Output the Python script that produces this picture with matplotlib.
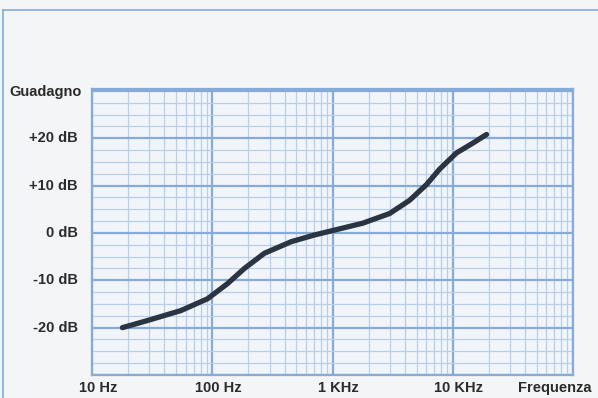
import numpy as np
import matplotlib
matplotlib.use("Agg")
import matplotlib.pyplot as plt
from matplotlib.lines import Line2D
from matplotlib.transforms import ScaledTranslation

# Data
freq_hz = [17.9, 28.9, 54.8, 91.4, 134, 185, 271, 453, 708, 1000, 1790,
           2985, 4380, 6040, 7790, 10740, 14760, 19100]
gain_db = [-20.0, -18.5, -16.4, -13.9, -10.7, -7.5, -4.3, -1.85, -0.43, 0.5, 2.07,
           4.1, 6.9, 10.2, 13.5, 16.9, 19.0, 20.8]

x_ticks = [10, 100, 1000, 10000]
x_labels = ["10 Hz", "100 Hz", "1 KHz", "10 KHz"]
y_ticks = [-20, -10, 0, 10, 20]
y_labels = ["-20 dB", "-10 dB", "0 dB", "+10 dB", "+20 dB"]

bg = "#f3f5f7"
major_c = "#86abd8"
minor_c = "#b9cfe9"
text_c = "#2b2b2b"
font = dict(family=["Liberation Sans", "DejaVu Sans"], fontweight="bold",
            fontsize=10.5, color=text_c)

fig = plt.figure(figsize=(5.98, 3.98), dpi=100, facecolor=bg)
ax = fig.add_axes([92/598, 1-375/398, 481/598, 286/398])
ax.set_facecolor("#f1f5fa")
ax.set_xscale("log")
ax.set_xlim(10, 100000)
ax.set_ylim(-30, 30.4)

# grid
ax.set_xticks([10, 100, 1000, 10000, 100000])
ax.set_xticks([m*10**d for d in range(1, 5) for m in range(2, 10)], minor=True)
ax.set_yticks(np.arange(-30, 31, 10))
ax.set_yticks(np.arange(-30, 31, 2.5), minor=True)
ax.grid(which="major", color=major_c, lw=1.6)
ax.grid(which="minor", color=minor_c, lw=0.9)
ax.tick_params(which="both", length=0, labelleft=False, labelbottom=False)
for s in ax.spines.values():
    s.set_color(major_c)
    s.set_linewidth(1.6)
ax.set_axisbelow(True)

ax.plot(freq_hz, gain_db, color="#2b3542", lw=3.8, solid_capstyle="round",
        solid_joinstyle="round")

# labels
for xv, lab in zip(x_ticks, x_labels):
    tr = ax.get_xaxis_transform() + ScaledTranslation(6/100, 0, fig.dpi_scale_trans)
    ax.text(xv, -0.045, lab, transform=tr, ha="center", va="center", **font)
for yv, lab in zip(y_ticks, y_labels):
    ax.text(-0.03, yv, lab, transform=ax.get_yaxis_transform(), ha="right",
            va="center", **font)
fig.text(82/598, 1-92/398, "Guadagno", ha="right", va="center", **font)
fig.text(555/598, 1-388/398, "Frequenza", ha="center", va="center", **font)

# outer frame
fig.add_artist(Line2D([3/598, 3/598], [0, 1-10/398], transform=fig.transFigure,
                      color=major_c, lw=1.2))
fig.add_artist(Line2D([3/598, 1], [1-10/398, 1-10/398], transform=fig.transFigure,
                      color=major_c, lw=1.2))

fig.savefig("out.png", dpi=100, facecolor=bg)
